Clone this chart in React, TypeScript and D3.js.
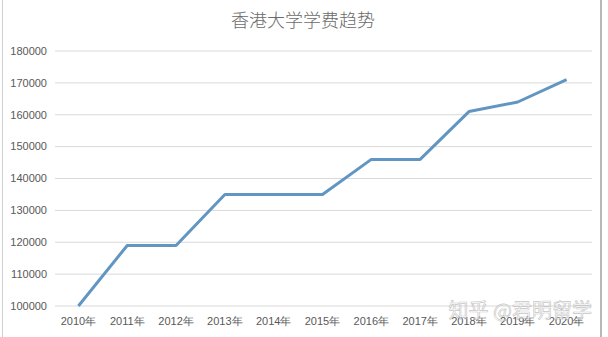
import React from "react";
import * as d3 from "d3";

const categories = ["2010年", "2011年", "2012年", "2013年", "2014年", "2015年", "2016年", "2017年", "2018年", "2019年", "2020年"];
const values = [100000, 119000, 119000, 135000, 135000, 135000, 146000, 146000, 161000, 164000, 171000];
const yTicks = [100000, 110000, 120000, 130000, 140000, 150000, 160000, 170000, 180000];
const title = "香港大学学费趋势";
const watermark = "知乎 @君明留学";

export default function App() {
  const W = 608, H = 337;
  const x = d3.scaleBand<string>().domain(categories).range([54, 591]);
  const y = d3.scaleLinear().domain([100000, 180000]).range([306, 51]);
  const line = d3.line<number>()
    .x((_, i) => (x(categories[i]) as number) + x.bandwidth() / 2)
    .y((d) => y(d));
  const font = "'Liberation Sans', Arial, sans-serif";
  return (
    <div style={{ position: "fixed", left: 0, top: 0 }}>
      <svg width={W} height={H} style={{ display: "block", background: "#fff" }}>
        <rect x={0} y={0} width={W} height={H} fill="#fff" />
        <line x1={2.5} x2={2.5} y1={0} y2={H} stroke="#d0d0d0" strokeWidth={1} />
        <line x1={601} x2={601} y1={0} y2={H} stroke="#b8b8b8" strokeWidth={2} />
        <text x={303} y={27} textAnchor="middle" fontFamily="'Noto Sans CJK SC', sans-serif" fontWeight={300} fontSize={18} fill="#6b6b6b">{title}</text>
        {yTicks.map((t) => (
          <g key={t}>
            <line x1={55} x2={592} y1={y(t)} y2={y(t)} stroke="#d9d9d9" strokeWidth={1} />
            <text x={47} y={y(t)} dy="0.35em" textAnchor="end" fontFamily={font} fontSize={11} fill="#595959">{t}</text>
          </g>
        ))}
        {categories.map((c) => (
          <text key={c} x={(x(c) as number) + x.bandwidth() / 2} y={325} textAnchor="middle" fontFamily={font} fontSize={11} fill="#595959">{c}</text>
        ))}
        <path d={line(values) || ""} fill="none" stroke="#6196c2" strokeWidth={3} strokeLinejoin="round" />
        <text x={592} y={318} textAnchor="end" fontFamily="'Noto Sans CJK SC', sans-serif" fontSize={20} fill="#ffffff" fillOpacity={0.6} stroke="#a0a0a0" strokeOpacity={0.6} strokeWidth={0.7}>{watermark}</text>
      </svg>
    </div>
  );
}
